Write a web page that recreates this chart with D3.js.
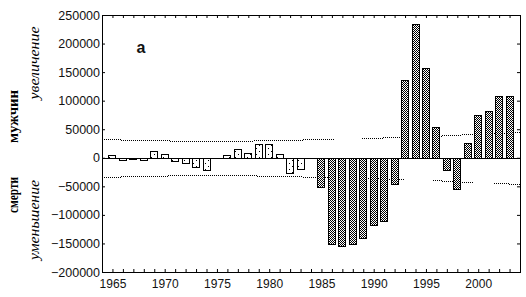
<!DOCTYPE html>
<html>
<head>
<meta charset="utf-8">
<title>смерти мужчин</title>
<script src="https://d3js.org/d3.v7.min.js"></script>
<style>
    body { margin: 0; background: #fff; }
    .tick text { font-family: "Liberation Sans", Arial, sans-serif; fill: #111; }
    .tick line { stroke: #000; }
</style>
</head>
<body>
<div id="chart"></div>
<script type="text/javascript">
// years on the x axis
var years = [1965, 1966, 1967, 1968, 1969, 1970, 1971, 1972, 1973, 1974,
    1975, 1976, 1977, 1978, 1979, 1980, 1981, 1982, 1983, 1984,
    1985, 1986, 1987, 1988, 1989, 1990, 1991, 1992, 1993, 1994,
    1995, 1996, 1997, 1998, 1999, 2000, 2001, 2002, 2003];

// change in male deaths
var deaths = [4000, -3500, -2500, -3500, 12500, 7000, -5000, -9000, -16000, -21000,
    0, 4000, 14500, 9000, 25000, 25000, 5800, -26300, -19300, 0,
    -51700, -151000, -155000, -151000, -140600, -117800, -111400, -45700, 137000, 233700,
    156400, 53300, -21100, -54500, 26400, 75600, 82600, 109000, 109000];

// dotted limits: [from year, to year, value]
var upperBand = [[1964, 1965.8, 32600], [1965.8, 1970.55, 30900], [1970.55, 1978.5, 29100],
    [1978.5, 1983.25, 30900], [1983.25, 1986.3, 32600],
    [1988.9, 1990.9, 34400], [1990.9, 1993.0, 36100],
    [1995.67, 1996.54, 38400], [1996.54, 1998.42, 39600], [1998.42, 1999.6, 41400],
    [2001.5, 2002.98, 44200], [2002.98, 2004, 44900]];
var lowerBand = [[1964, 1965.8, -34000], [1965.8, 1970.3, -32300], [1970.3, 1978.85, -30500],
    [1978.85, 1983.25, -32300], [1983.25, 1986.3, -34000],
    [1988.9, 1990.9, -35500], [1990.9, 1993.0, -37000],
    [1995.67, 1996.54, -39300], [1996.54, 1998.42, -41000], [1998.42, 1999.6, -42800],
    [2001.5, 2002.98, -44500], [2002.98, 2004, -46300]];

var yTicks = [-200000, -150000, -100000, -50000, 0, 50000, 100000, 150000, 200000, 250000];
var yearLabels = [1965, 1970, 1975, 1980, 1985, 1990, 1995, 2000];

var svg = d3.select("#chart").append("svg")
    .attr("width", 526)
    .attr("height", 297);

var xScale = d3.scaleLinear().domain([1964, 2004]).range([102, 520]);
var yScale = d3.scaleLinear().domain([-200000, 250000]).range([272, 15]);

function px(v) { return Math.round(v) + 0.5; }

// fill patterns
var defs = svg.append("defs");
var pDots = defs.append("pattern").attr("id", "dots")
    .attr("patternUnits", "userSpaceOnUse").attr("width", 6).attr("height", 6);
pDots.append("rect").attr("width", 6).attr("height", 6).attr("fill", "#fff");
pDots.append("rect").attr("x", 1).attr("y", 1).attr("width", 1).attr("height", 1).attr("fill", "#000");
pDots.append("rect").attr("x", 4).attr("y", 4).attr("width", 1).attr("height", 1).attr("fill", "#000");

var pCheck = defs.append("pattern").attr("id", "check")
    .attr("patternUnits", "userSpaceOnUse").attr("width", 2).attr("height", 2);
pCheck.append("rect").attr("width", 2).attr("height", 2).attr("fill", "#fff");
pCheck.append("rect").attr("x", 0).attr("y", 0).attr("width", 1).attr("height", 1).attr("fill", "#000");
pCheck.append("rect").attr("x", 1).attr("y", 1).attr("width", 1).attr("height", 1).attr("fill", "#000");

// dotted limit lines
var bands = upperBand.concat(lowerBand);
svg.selectAll(".band")
    .data(bands)
    .enter()
    .append("line")
    .attr("class", "band")
    .attr("x1", function(d) { return Math.round(xScale(d[0])); })
    .attr("x2", function(d) { return Math.round(xScale(d[1])); })
    .attr("y1", function(d) { return px(yScale(d[2])); })
    .attr("y2", function(d) { return px(yScale(d[2])); })
    .attr("stroke", "#000")
    .attr("stroke-width", 1)
    .attr("stroke-dasharray", "1,1");

// bars
var bars = years.map(function(y, i) { return { year: y, value: deaths[i] }; })
    .filter(function(d) { return d.value !== 0; });
var y0 = Math.round(yScale(0));

svg.selectAll(".bar")
    .data(bars)
    .enter()
    .append("rect")
    .attr("class", "bar")
    .attr("x", function(d) { return px(xScale(d.year) - 4); })
    .attr("width", 7)
    .attr("y", function(d) { return Math.min(Math.round(yScale(d.value)), y0) + 0.5; })
    .attr("height", function(d) { return Math.max(1, Math.abs(Math.round(yScale(d.value)) - y0)); })
    .attr("fill", function(d) { return d.year < 1985 ? "url(#dots)" : "url(#check)"; })
    .attr("stroke", "#000")
    .attr("stroke-width", 1);

// zero line
svg.append("line")
    .attr("x1", xScale(1964)).attr("x2", xScale(2004))
    .attr("y1", y0 + 0.5).attr("y2", y0 + 0.5)
    .attr("stroke", "#000");

// frame
svg.append("rect")
    .attr("x", xScale(1964) + 0.5)
    .attr("y", yScale(250000) + 0.5)
    .attr("width", xScale(2004) - xScale(1964))
    .attr("height", yScale(-200000) - yScale(250000))
    .attr("fill", "none")
    .attr("stroke", "#000");

// left axis
var axisL = svg.append("g")
    .attr("transform", "translate(" + xScale(1964) + ",0)")
    .call(d3.axisLeft(yScale).tickValues(yTicks).tickSize(-3).tickPadding(2).tickFormat(d3.format("d")));
axisL.select(".domain").remove();
axisL.selectAll("text").style("font-size", "12.5px");

// right axis
var axisR = svg.append("g")
    .attr("transform", "translate(" + xScale(2004) + ",0)")
    .call(d3.axisRight(yScale).tickValues(yTicks).tickSize(-3).tickFormat(""));
axisR.select(".domain").remove();

// bottom axis
var axisB = svg.append("g")
    .attr("transform", "translate(0," + yScale(-200000) + ")")
    .call(d3.axisBottom(xScale).tickValues(years).tickSize(-3).tickPadding(7)
        .tickFormat(function(d) { return yearLabels.indexOf(d) >= 0 ? d : ""; }));
axisB.select(".domain").remove();
axisB.selectAll("text").style("font-size", "12px");

// top axis
var axisT = svg.append("g")
    .attr("transform", "translate(0," + yScale(250000) + ")")
    .call(d3.axisTop(xScale).tickValues(years).tickSize(-3).tickFormat(""));
axisT.select(".domain").remove();

// axis titles
function vtext(txt, x, y, size, weight, style, len) {
    svg.append("text")
        .attr("transform", "translate(" + x + "," + y + ") rotate(-90)")
        .attr("text-anchor", "middle")
        .attr("textLength", len)
        .attr("lengthAdjust", "spacingAndGlyphs")
        .style("font-family", "'Liberation Serif', 'Times New Roman', serif")
        .style("font-size", size)
        .style("font-weight", weight)
        .style("font-style", style)
        .text(txt);
}
vtext("мужчин", 18, 116.5, "14px", "bold", "normal", 53);
vtext("смерти", 18, 195, "14px", "bold", "normal", 36);
vtext("увеличение", 39, 63, "14px", "normal", "italic", 73);
vtext("уменьшение", 39, 220, "14px", "normal", "italic", 80);

// panel letter
svg.append("text")
    .attr("x", 136.5)
    .attr("y", 52.5)
    .style("font-family", "'Liberation Sans', Arial, sans-serif")
    .style("font-size", "16px")
    .style("font-weight", "bold")
    .style("fill", "#111")
    .text("а");
</script>
</body>
</html>
